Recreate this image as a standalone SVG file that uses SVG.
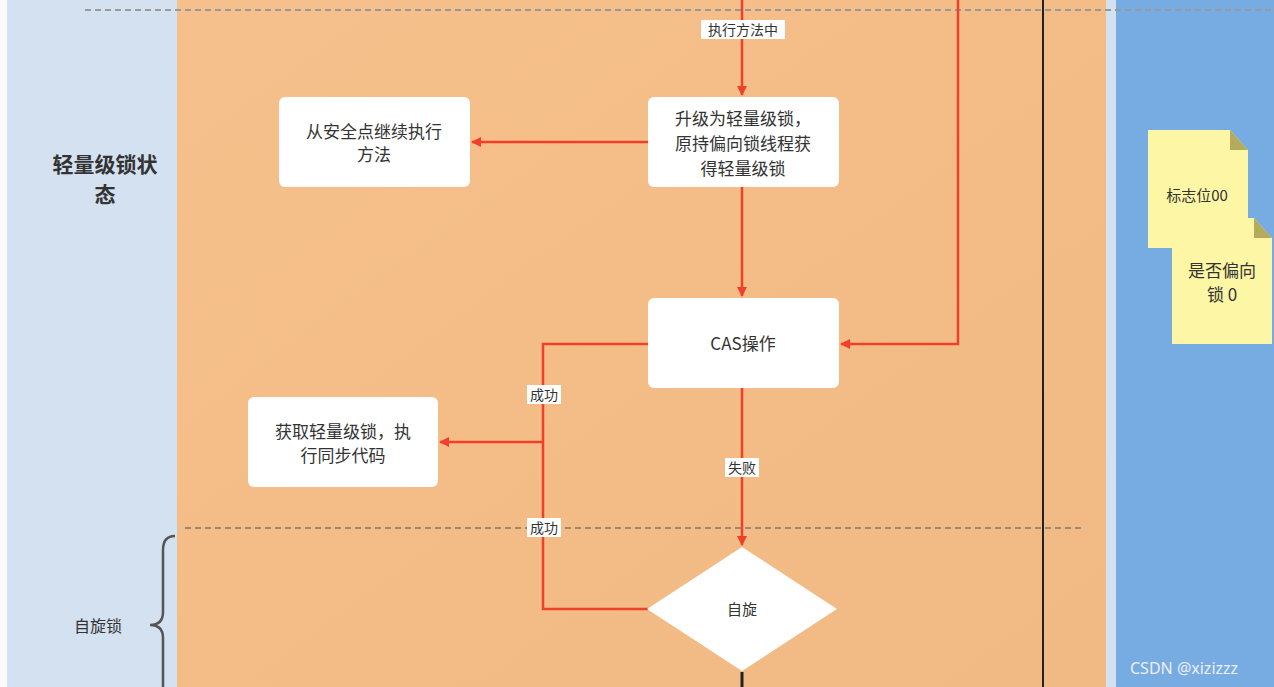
<svg xmlns="http://www.w3.org/2000/svg" width="1274" height="687" viewBox="0 0 1274 687">
<style>
.t{font-family:"Noto Sans CJK SC","Noto Sans",sans-serif;fill:#333;text-anchor:middle}
.r{stroke:#f0402a;stroke-width:2.5;fill:none}
.lbl{font-family:"Noto Sans CJK SC",sans-serif;font-size:14px;fill:#333;text-anchor:middle}
</style>
<defs>
<marker id="a" markerWidth="10" markerHeight="10" refX="9" refY="5" orient="auto" markerUnits="userSpaceOnUse" viewBox="0 0 10 10"><path d="M0,0L10,5L0,10z" fill="#f0402a"/></marker>
<linearGradient id="og" x1="0" y1="0" x2="1" y2="1"><stop offset="0" stop-color="#f6c08c"/><stop offset="1" stop-color="#f1b983"/></linearGradient>
</defs>
<rect width="1274" height="687" fill="#fafafa"/>
<rect x="7" width="170" height="687" fill="#d3e1f1"/>
<rect x="177" width="929" height="687" fill="url(#og)"/>
<rect x="1106" width="10" height="687" fill="#d3e1f1"/>
<rect x="1116" width="158" height="687" fill="#76ace1"/>
<line x1="85" y1="10" x2="1274" y2="10" stroke="#999" stroke-width="2" stroke-dasharray="6,4"/>
<line x1="185" y1="528" x2="1085" y2="528" stroke="#a08870" stroke-width="2" stroke-dasharray="6,4"/>
<line x1="1043" y1="0" x2="1043" y2="687" stroke="#222" stroke-width="2"/>
<line x1="742" y1="672" x2="742" y2="687" stroke="#222" stroke-width="3"/>
<text class="t" x="105" y="172" font-size="21" font-weight="bold">轻量级锁状</text>
<text class="t" x="105" y="202" font-size="21" font-weight="bold">态</text>
<path d="M175,536 Q163,536 163,550 L163,612 Q163,625 150,625 Q163,625 163,638 L163,687" fill="none" stroke="#555" stroke-width="2.5"/>
<text class="t" x="98" y="632" font-size="16" fill="#444">自旋锁</text>
<g id="connectors">
<path class="r" d="M742,0V95" marker-end="url(#a)"/>
<path class="r" d="M648,142H472" marker-end="url(#a)"/>
<path class="r" d="M742,187V296" marker-end="url(#a)"/>
<path class="r" d="M958,0V344H841" marker-end="url(#a)"/>
<path class="r" d="M648,344H543V609H648"/>
<path class="r" d="M543,442H440" marker-end="url(#a)"/>
<path class="r" d="M742,388V545" marker-end="url(#a)"/>
<rect x="701" y="20" width="84" height="19" fill="#fff"/><text class="lbl" x="743" y="35">执行方法中</text>
<rect x="527" y="385" width="34" height="19" fill="#fff"/><text class="lbl" x="544" y="400">成功</text>
<rect x="527" y="518" width="34" height="19" fill="#fff"/><text class="lbl" x="544" y="533">成功</text>
<rect x="725" y="458" width="34" height="19" fill="#fff"/><text class="lbl" x="742" y="473">失败</text>
</g>
<g id="n1"><rect fill="#fff" x="279" y="97" width="191" height="90" rx="6"/><text class="t" x="374" y="138" font-size="17">从安全点继续执行</text><text class="t" x="374" y="161" font-size="17">方法</text></g>
<g id="n2"><rect fill="#fff" x="648" y="97" width="191" height="90" rx="6"/><text class="t" x="743" y="125" font-size="17">升级为轻量级锁，</text><text class="t" x="743" y="150" font-size="17">原持偏向锁线程获</text><text class="t" x="743" y="175" font-size="17">得轻量级锁</text></g>
<g id="n3"><rect fill="#fff" x="648" y="298" width="191" height="90" rx="6"/><text class="t" x="743" y="350" font-size="17">CAS操作</text></g>
<g id="n4"><rect fill="#fff" x="248" y="397" width="190" height="90" rx="6"/><text class="t" x="343" y="438" font-size="17">获取轻量级锁，执</text><text class="t" x="343" y="462" font-size="17">行同步代码</text></g>
<g id="n5"><path d="M742,547L837,609L742,671L647,609Z" fill="#fff"/><text class="t" x="742" y="615" font-size="15">自旋</text></g>
<g id="note1"><path d="M1148,130H1230L1248,150V248H1148Z" fill="#fdf6a4"/><path d="M1230,130V150H1248Z" fill="#b5ab5c"/><text class="t" x="1197" y="201" font-size="15">标志位00</text></g>
<g id="note2"><path d="M1172,248V218H1254L1272,238V344H1172Z" fill="#fdf6a4"/><path d="M1254,218V238H1272Z" fill="#b5ab5c"/><text class="t" x="1222" y="277" font-size="17">是否偏向</text><text class="t" x="1222" y="301" font-size="17">锁 0</text></g>
<text x="1130" y="674" font-family="Noto Sans,sans-serif" font-size="16" fill="#eef">CSDN @xizizzz</text>
</svg>
